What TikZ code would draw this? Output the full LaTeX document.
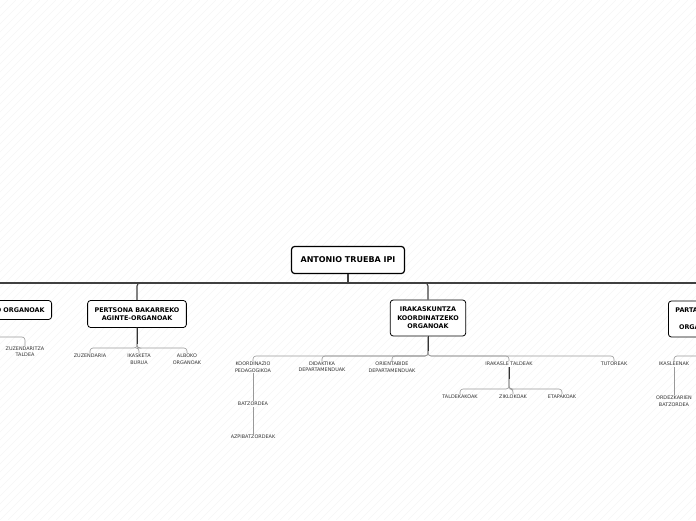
\documentclass[tikz,border=0pt]{standalone}
\usepackage{fontspec}
\setmainfont{DejaVu Sans}
\usetikzlibrary{calc,positioning}
\tikzset{
  topbox/.style={draw, very thick, rounded corners=3pt, fill=white, font=\bfseries\fontsize{8}{9.5}\selectfont, minimum height=27pt, inner xsep=9pt},
  groupbox/.style={draw, thick, rounded corners=3pt, fill=white, font=\bfseries\fontsize{6.4}{8.4}\selectfont, align=center, inner xsep=7pt, inner ysep=4pt},
  leaf/.style={font=\fontsize{4.9}{6.2}\selectfont, text=black!80, align=center, inner sep=1pt, anchor=north},
  trunk/.style={line width=1.1pt, black!75},
  stub/.style={line width=0.9pt, black!80},
  branch/.style={line width=0.6pt, black!40, rounded corners=3pt},
}
\begin{document}
\begin{tikzpicture}[x=1pt,y=1pt]
  \useasboundingbox (0,0) rectangle (696,520);
  \clip (0,0) rectangle (696,520);
  % faint background stripes
  \foreach \i in {0,8,...,1216} {
    \draw [black!4, line width=0.4pt] (\i-520,0) -- (\i,520);
  }

  \node [topbox] (root) at (348,260) {ANTONIO TRUEBA IPI};

  \draw [trunk] (root.south) -- (348,237);
  \draw [trunk] (0,237) -- (696,237);

  \node [groupbox, anchor=east, minimum height=19pt] (kide) at (52,210) {KIDE ANITZEKO ORGANOAK};
  \node [groupbox, minimum height=27pt] (pertsona) at (137,206) {PERTSONA BAKARREKO\\AGINTE-ORGANOAK};
  \node [groupbox, minimum height=36pt] (irakas) at (428,202) {IRAKASKUNTZA\\KOORDINATZEKO\\ORGANOAK};
  \node [groupbox, anchor=west, minimum height=36pt] (parte) at (668,201) {PARTAIDETZA\\-\\ORGANOAK};

  \draw [trunk, rounded corners=3pt] (348,237) -| (pertsona.north);
  \draw [trunk, rounded corners=3pt] (348,237) -| (irakas.north);
  \draw [trunk] (kide.north) -- ++(0,18);
  \draw [trunk] (parte.north) -- ++(0,18);

  % kide anitzeko organoak
  \node [leaf] (zuzentaldea) at (25,174) {ZUZENDARITZA\\TALDEA};
  \draw [branch] (0,183) -| (zuzentaldea.north);

  % pertsona bakarreko
  \node [leaf] (zuzendaria) at (90,167) {ZUZENDARIA};
  \node [leaf] (ikasketa) at (139,167) {IKASKETA\\BURUA};
  \node [leaf] (alboko) at (187,167) {ALBOKO\\ORGANOAK};
  \foreach \n in {zuzendaria,ikasketa,alboko} {
    \draw [branch] (pertsona.south) |- ($(\n.north)+(0,5)$) -- (\n.north);
  }
  \draw [stub] (pertsona.south) -- ++(0,-16);

  % irakaskuntza koordinatzeko
  \node [leaf] (koord) at (253,159) {KOORDINAZIO\\PEDAGOGIKOA};
  \node [leaf] (didak) at (322,159) {DIDAKTIKA\\DEPARTAMENDUAK};
  \node [leaf] (orien) at (392,159) {ORIENTABIDE\\DEPARTAMENDUAK};
  \node [leaf] (irtalde) at (509,159) {IRAKASLE TALDEAK};
  \node [leaf] (tutore) at (614,159) {TUTOREAK};
  \foreach \n in {koord,didak,orien,irtalde,tutore} {
    \draw [branch] (irakas.south) |- ($(\n.north)+(0,5)$) -- (\n.north);
  }
  \draw [stub] (irakas.south) -- ++(0,-15);

  \node [leaf] (batzor) at (253,119) {BATZORDEA};
  \node [leaf] (azpi) at (253,86) {AZPIBATZORDEAK};
  \draw [branch] (koord) -- (batzor);
  \draw [branch] (batzor) -- (azpi);

  \node [leaf] (taldek) at (460,126) {TALDEKAKOAK};
  \node [leaf] (ziklo) at (513,126) {ZIKLOKOAK};
  \node [leaf] (etapa) at (562,126) {ETAPAKOAK};
  \foreach \n in {taldek,ziklo,etapa} {
    \draw [branch] (irtalde.south) |- ($(\n.north)+(0,5)$) -- (\n.north);
  }
  \draw [stub] (irtalde.south) -- ++(0,-12);

  % partaidetza
  \node [leaf] (ikasle) at (674,159) {IKASLEENAK};
  \node [leaf] (ordez) at (674,125) {ORDEZKARIEN\\BATZORDEA};
  \draw [branch] (parte.south) |- ($(ikasle.north)+(0,5)$) -- (ikasle.north);
  \draw [branch] (ikasle) -- (ordez);
\end{tikzpicture}
\end{document}
